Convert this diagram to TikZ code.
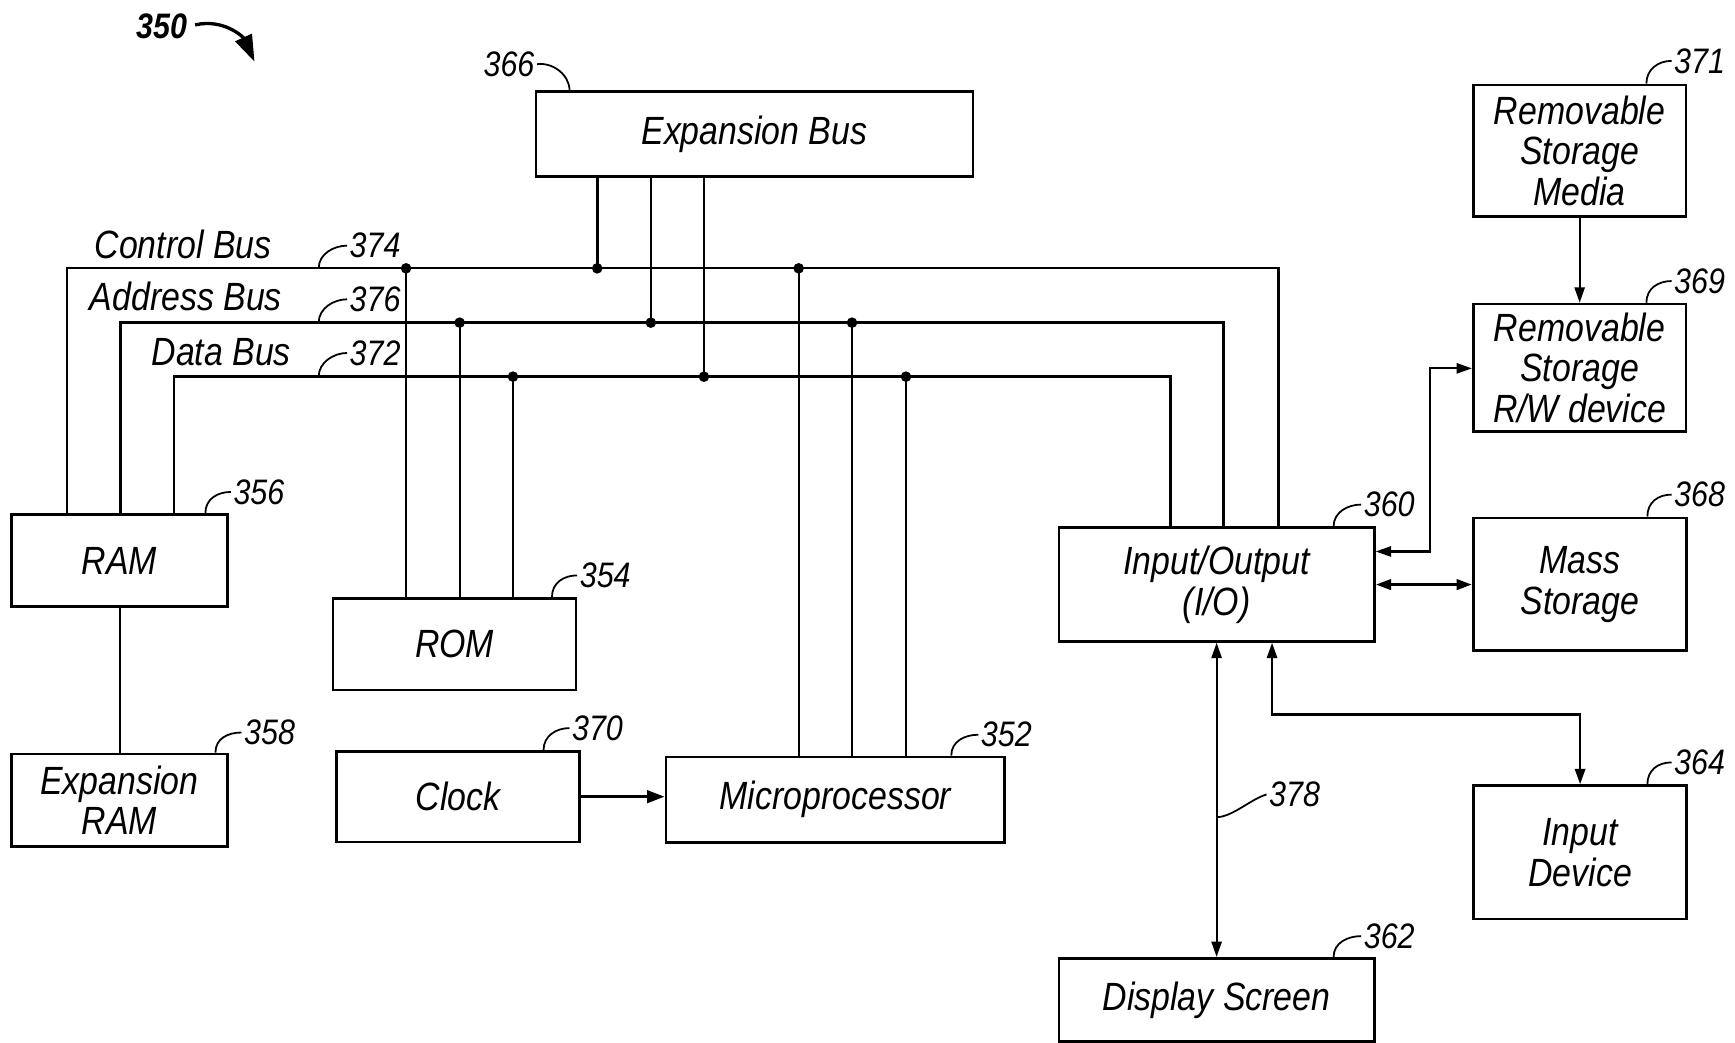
\documentclass[tikz,border=0pt]{standalone}
\usepackage{fontspec}
\setmainfont{Liberation Sans}[FakeStretch=0.86]
\usetikzlibrary{arrows.meta,calc}
\begin{document}
\begin{tikzpicture}[x=0.5pt,y=-0.5pt,
  txt/.style={font=\fontsize{17.8}{18.4}\selectfont\itshape},
  num/.style={font=\fontsize{16}{17}\selectfont\itshape,inner sep=1pt},
  box/.style={draw,line width=1.2pt,align=center,inner sep=2pt,txt},
  bus/.style={line width=1pt},
  wire/.style={line width=0.9pt},
  ldr/.style={line width=0.8pt},
  dot/.style={circle,fill,inner sep=0pt,minimum size=4.8pt},
  tip/.style={Triangle[length=7pt,width=4.6pt]},
  arr/.style={line width=1pt,-{Triangle[length=7pt,width=4.6pt]}},
  darr/.style={line width=1pt,{Triangle[length=7pt,width=4.6pt]}-{Triangle[length=7pt,width=4.6pt]}},
]
\useasboundingbox (0,0) rectangle (1568,942);

% ---------- boxes ----------
\node[box,minimum width=197.5pt,minimum height=38.5pt] (expbus) at (681.8,121.3) {Expansion Bus};
\node[box,minimum width=96.1pt,minimum height=59.5pt] (rsm) at (1427.6,136.3) {Removable\\Storage\\Media};
\node[box,minimum width=96.1pt,minimum height=57.6pt] (rsrw) at (1427.6,332.4) {Removable\\Storage\\R/W device};
\node[box,minimum width=97.7pt,minimum height=41.6pt] (ram) at (108,506.6) {RAM};
\node[box,minimum width=109.8pt,minimum height=41.4pt] (rom) at (410.8,582.2) {ROM};
\node[box,minimum width=97.7pt,minimum height=41.8pt] (exram) at (108,723.2) {Expansion\\RAM};
\node[box,minimum width=110pt,minimum height=40.8pt] (clock) at (414,720) {Clock};
\node[box,minimum width=153pt,minimum height=38.8pt] (micro) at (755,722.8) {Microprocessor};
\node[box,minimum width=142.5pt,minimum height=51.3pt] (io) at (1099.5,528.3) {Input/Output\\(I/O)};
\node[box,minimum width=96.4pt,minimum height=60pt] (mass) at (1428,528) {Mass\\Storage};
\node[box,minimum width=96.4pt,minimum height=60.3pt] (input) at (1428,770.3) {Input\\Device};
\node[box,minimum width=142.5pt,minimum height=37.5pt] (display) at (1099.5,903.6) {Display Screen};

% ---------- bus labels ----------
\node[txt,inner sep=0pt] (cbus) at (165.5,220.5) {Control Bus};
\node[txt,inner sep=0pt] (abus) at (168,267.5) {Address Bus};
\node[txt,inner sep=0pt] (dbus) at (200,318) {Data Bus};

% ---------- buses ----------
\coordinate (cbL) at (60.5,242.5); \coordinate (cbR) at (1155.5,242.5);
\coordinate (abL) at (109,291.6);   \coordinate (abR) at (1106,291.6);
\coordinate (dbL) at (157.3,340.4); \coordinate (dbR) at (1057.9,340.4);
\draw[bus] (ram.north -| cbL) -- (cbL) -- (cbR) -- (io.north -| cbR);
\draw[bus,line width=1.3pt] (ram.north -| abL) -- (abL) -- (abR) -- (io.north -| abR);
\draw[bus,line width=1.15pt] (ram.north -| dbL) -- (dbL) -- (dbR) -- (io.north -| dbR);

% junction dots
\node[dot] (c1) at (367,242.5) {};
\node[dot] (c2) at (539.7,242.5) {};
\node[dot] (c3) at (721.8,242.5) {};
\node[dot] (a1) at (415.4,291.6) {};
\node[dot] (a2) at (588.2,291.6) {};
\node[dot] (a3) at (770,291.6) {};
\node[dot] (d1) at (463.6,340.4) {};
\node[dot] (d2) at (636.2,340.4) {};
\node[dot] (d3) at (818.8,340.4) {};

% expansion bus taps
\draw[line width=1.2pt] (expbus.south -| c2) -- (c2.center);
\draw[wire] (expbus.south -| a2) -- (a2.center);
\draw[wire] (expbus.south -| d2) -- (d2.center);
% ROM taps
\draw[wire] (c1.center) -- (rom.north -| c1);
\draw[wire] (a1.center) -- (rom.north -| a1);
\draw[wire] (d1.center) -- (rom.north -| d1);
% microprocessor taps
\draw[wire] (c3.center) -- (micro.north -| c3);
\draw[wire] (a3.center) -- (micro.north -| a3);
\draw[wire] (d3.center) -- (micro.north -| d3);

% RAM to expansion RAM
\draw[wire] (ram.south) -- (exram.north);
% clock to microprocessor
\draw[line width=1.6pt,-{Triangle[length=8pt,width=5.5pt]}] (clock.east) -- (clock.east -| micro.west);

% ---------- I/O connections ----------
\draw[arr] (rsm.south) -- (rsrw.north);
\coordinate (rwA) at (1292.4,498.4); \coordinate (rwB) at (1292.4,332.9);
\draw[darr] (io.east |- rwA) -- (rwA) -- (rwB) -- (rsrw.west |- rwB);
\draw[darr,line width=1.5pt] (io.east) -- (io.east -| mass.west);
\coordinate (inA) at (1149.6,646); \coordinate (inB) at (1428,646);
\draw[darr,line width=1.2pt] (io.south -| inA) -- (inA) -- (inB) -- (input.north -| inB);
\coordinate (dsp) at (1099.5,700);
\draw[darr] (io.south -| dsp) -- (display.north -| dsp);

% ---------- reference numbers ----------
\node[font=\fontsize{16}{17}\selectfont\bfseries\itshape,inner sep=1pt] (l350) at (146,23.5) {350};
\coordinate (a350) at (230,55.7);
\draw[line width=1.5pt,-{Triangle[length=12pt,width=8pt]}] (l350.east) ++(5,-1) .. controls +(26,-6) and +(-10,-22) .. (a350);

\node[num] (l366) at (460,58) {366};
\draw[ldr] (l366.east) .. controls +(14,-2) and +(0,-14) .. ($(expbus.north west)+(31.6,0)$);

\node[num] (l374) at (339,222) {374};
\node[num] (l376) at (339,270.5) {376};
\node[num] (l372) at (339,319) {372};
\coordinate (k374) at (288,242.5);
\coordinate (k376) at (288,291.6);
\coordinate (k372) at (288,340.4);
\draw[ldr] (k374) .. controls +(0,-13) and +(-12,0) .. (l374.west);
\draw[ldr] (k376) .. controls +(0,-13) and +(-12,0) .. (l376.west);
\draw[ldr] (k372) .. controls +(0,-13) and +(-12,0) .. (l372.west);

\node[num] (l356) at (234,444.6) {356};
\draw[ldr] ($(ram.north east)+(-21.3,0)$) .. controls +(0,-13) and +(-12,0) .. (l356.west);
\node[num] (l354) at (547,520) {354};
\draw[ldr] ($(rom.north east)+(-23,0)$) .. controls +(0,-13) and +(-12,0) .. (l354.west);
\node[num] (l358) at (243.6,662) {358};
\draw[ldr] ($(exram.north east)+(-12.2,0)$) .. controls +(0,-13) and +(-12,0) .. (l358.west);
\node[num] (l370) at (540,658) {370};
\draw[ldr] ($(clock.north east)+(-34,0)$) .. controls +(0,-13) and +(-12,0) .. (l370.west);
\node[num] (l352) at (909.5,664) {352};
\draw[ldr] ($(micro.north east)+(-49.5,0)$) .. controls +(0,-13) and +(-12,0) .. (l352.west);
\node[num] (l360) at (1255.5,456) {360};
\draw[ldr] ($(io.north east)+(-38,0)$) .. controls +(0,-13) and +(-12,0) .. (l360.west);
\node[num] (l368) at (1536,447) {368};
\draw[ldr] ($(mass.north east)+(-36.8,0)$) .. controls +(0,-13) and +(-12,0) .. (l368.west);
\node[num] (l364) at (1536,689) {364};
\draw[ldr] ($(input.north east)+(-36.8,0)$) .. controls +(0,-13) and +(-12,0) .. (l364.west);
\node[num] (l371) at (1536,55) {371};
\draw[ldr] ($(rsm.north east)+(-37,0)$) .. controls +(0,-13) and +(-12,0) .. (l371.west);
\node[num] (l369) at (1536,254) {369};
\draw[ldr] ($(rsrw.north east)+(-37,0)$) .. controls +(0,-13) and +(-12,0) .. (l369.west);
\node[num] (l362) at (1255.5,846) {362};
\draw[ldr] ($(display.north east)+(-38,0)$) .. controls +(0,-13) and +(-12,0) .. (l362.west);
\node[num] (l378) at (1170,718) {378};
\coordinate (t378) at (1099.5,738.5);
\draw[ldr] (t378) .. controls +(14,0) and +(-14,4) .. (l378.west);
\end{tikzpicture}
\end{document}
